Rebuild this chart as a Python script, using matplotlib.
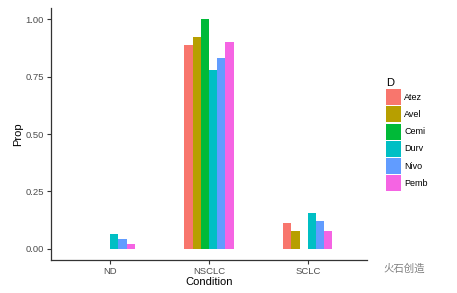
import numpy as np
import matplotlib.pyplot as plt
from matplotlib.patches import Patch

plt.rcParams['font.family'] = ['Liberation Sans', 'Noto Sans CJK SC', 'DejaVu Sans']

# data (None = no bar)
conditions = ['ND', 'NSCLC', 'SCLC']
drugs = ['Atez', 'Avel', 'Cemi', 'Durv', 'Nivo', 'Pemb']
colors = ['#F8766D', '#B79F00', '#00BA38', '#00BFC4', '#619CFF', '#F564E3']
props = {
    'Atez': [None, 0.889, 0.111],
    'Avel': [None, 0.923, 0.077],
    'Cemi': [None, 1.000, None],
    'Durv': [0.064, 0.778, 0.155],
    'Nivo': [0.043, 0.833, 0.122],
    'Pemb': [0.022, 0.903, 0.075],
}
yticks = [0.0, 0.25, 0.5, 0.75, 1.0]

fig = plt.figure(figsize=(4.57, 2.93), dpi=100)
ax = fig.add_axes([51 / 457, 1 - 260 / 293, 316 / 457, 252 / 293])

group_w = 0.5
bw = group_w / len(drugs)
xpos = np.arange(1, len(conditions) + 1)
for i, (d, c) in enumerate(zip(drugs, colors)):
    for x, v in zip(xpos, props[d]):
        if v is None:
            continue
        ax.bar(x - group_w / 2 + (i + 0.5) * bw, v, width=bw, color=c, linewidth=0)

ax.set_xlim(0.4, 3.6)
ax.set_ylim(-0.05, 1.05)
ax.set_xticks(xpos)
ax.set_xticklabels(conditions)
ax.set_yticks(yticks)
ax.set_yticklabels(['%.2f' % t for t in yticks])
for s in ['top', 'right']:
    ax.spines[s].set_visible(False)
for s in ['left', 'bottom']:
    ax.spines[s].set_color('#333333')
    ax.spines[s].set_linewidth(0.9)
ax.tick_params(colors='#333333', labelcolor='#4D4D4D', labelsize=6.8, length=3, width=0.8, pad=2)
ax.set_xlabel('Condition', fontsize=8, labelpad=1)
ax.set_ylabel('Prop', fontsize=8, labelpad=2)

handles = [Patch(facecolor=c, edgecolor='none', label=d) for d, c in zip(drugs, colors)]
leg = fig.legend(handles=handles, title='D', loc='upper left',
                 bbox_to_anchor=(380 / 457, 1 - 72 / 293), frameon=False,
                 fontsize=6.5, title_fontsize=8, handlelength=1.6, handleheight=2.35,
                 handletextpad=0.4, labelspacing=0.12, borderpad=0.2)
leg._legend_box.align = 'left'

fig.text(383 / 457, 1 - 269 / 293, '火石创造', fontsize=7.5, color='#808080',
         family=['Noto Sans CJK SC', 'DejaVu Sans'], va='center')

fig.savefig('out.png', dpi=100)
